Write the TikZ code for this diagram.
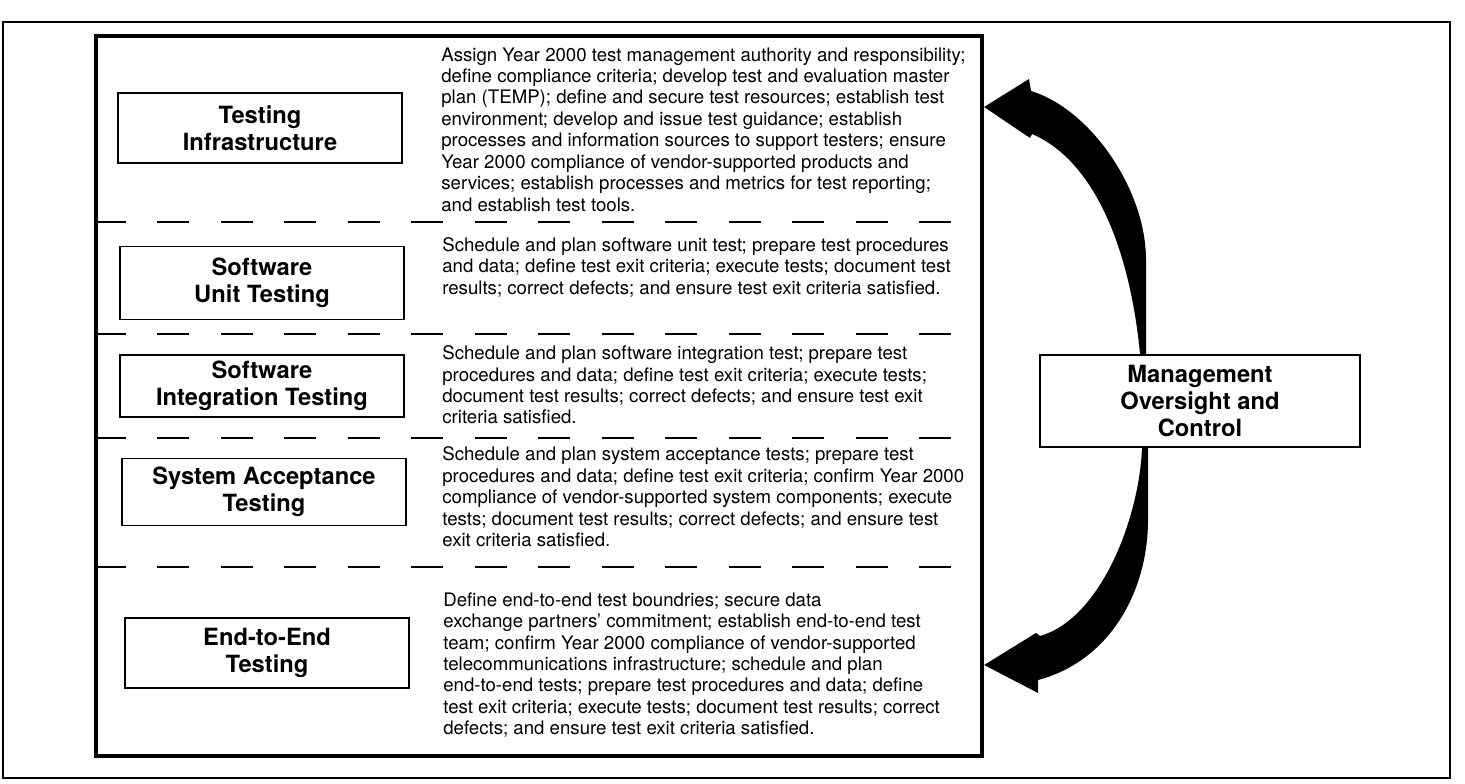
\documentclass[tikz,border=0pt]{standalone}
\usepackage{fontspec}
\setsansfont{TeX Gyre Heros}
\begin{document}
\begin{tikzpicture}[font=\sffamily,
  phase/.style={draw, line width=1.1pt, minimum width=5.68cm, align=center,
    font=\sffamily\bfseries\fontsize{13.5}{15.2}\selectfont},
  duty/.style={anchor=west, align=left, inner sep=0pt,
    font=\sffamily\fontsize{10.6}{12.2}\selectfont},
  split/.style={line width=0.8pt, dash pattern=on 0.64cm off 0.63cm}]
  \useasboundingbox (0,0) rectangle (29.3,15.68);
  \draw[line width=0.8pt] (0.06,0.12) rectangle (29.0,15.24);
  \node[draw, line width=2.4pt, minimum width=17.72cm, minimum height=14.4cm] (stack) at (10.78,7.76) {};
  % phases
  \node[phase, minimum height=1.4cm] (infra) at (5.2,13.12) {Testing\\Infrastructure};
  \node[phase, minimum height=1.46cm] (unit) at (5.24,10.02) {Software\\Unit Testing};
  \node[phase, minimum height=1.12cm] (integ) at (5.24,7.96) {Software\\Integration Testing};
  \node[phase, minimum height=1.34cm] (accept) at (5.28,5.84) {System Acceptance\\Testing};
  \node[phase, minimum height=1.4cm] (endend) at (5.34,2.62) {End-to-End\\Testing};
  % separators
  \draw[split] (stack.west |- 0,11.24) -- (19.3,11.24);
  \draw[split] (stack.west |- 0,9.0) -- (19.3,9.0);
  \draw[split] (stack.west |- 0,6.92) -- (19.3,6.92);
  \draw[split] (stack.west |- 0,4.34) -- (19.3,4.34);
  % activities
  \node[duty] (infratext) at (8.82,13.09) {Assign Year 2000 test management authority and responsibility;\\
    define compliance criteria; develop test and evaluation master\\
    plan (TEMP); define and secure test resources; establish test\\
    environment; develop and issue test guidance; establish\\
    processes and information sources to support testers; ensure\\
    Year 2000 compliance of vendor-supported products and\\
    services; establish processes and metrics for test reporting;\\
    and establish test tools.};
  \node[duty] (unittext) at (8.84,10.34) {Schedule and plan software unit test; prepare test procedures\\
    and data; define test exit criteria; execute tests; document test\\
    results; correct defects; and ensure test exit criteria satisfied.};
  \node[duty] (integtext) at (8.84,7.98) {Schedule and plan software integration test; prepare test\\
    procedures and data; define test exit criteria; execute tests;\\
    document test results; correct defects; and ensure test exit\\
    criteria satisfied.};
  \node[duty] (accepttext) at (8.84,5.74) {Schedule and plan system acceptance tests; prepare test\\
    procedures and data; define test exit criteria; confirm Year 2000\\
    compliance of vendor-supported system components; execute\\
    tests; document test results; correct defects; and ensure test\\
    exit criteria satisfied.};
  \node[duty] (endendtext) at (8.86,2.38) {Define end-to-end test boundries; secure data\\
    exchange partners' commitment; establish end-to-end test\\
    team; confirm Year 2000 compliance of vendor-supported\\
    telecommunications infrastructure; schedule and plan\\
    end-to-end tests; prepare test procedures and data; define\\
    test exit criteria; execute tests; document test results; correct\\
    defects; and ensure test exit criteria satisfied.};
  % oversight
  \node[phase, line width=1.4pt, minimum width=6.4cm, minimum height=1.84cm] (mgmt) at (24.0,7.66)
    {Management\\Oversight and\\Control};
  \coordinate (upTip) at (stack.east |- 0,13.54);
  \coordinate (downTip) at (stack.east |- 0,2.38);
  \fill (mgmt.north -| 22.92,0) -- (22.92,10.48) .. controls (22.92,11.9) and (21.8,13.5) .. (20.62,13.86)
    -- (20.58,14.1) -- (upTip) -- (20.6,12.92) -- (20.64,13.0)
    .. controls (21.9,12.46) and (22.6,10.68) .. (mgmt.north -| 22.8,0) -- cycle;
  \fill (mgmt.south -| 22.96,0) -- (22.96,5.28) .. controls (22.96,3.86) and (22.2,2.46) .. (20.76,2.08)
    -- (20.76,1.82) -- (downTip) -- (20.72,3.02) -- (20.8,2.96)
    .. controls (22.0,3.3) and (22.78,5.28) .. (mgmt.south -| 22.84,0) -- cycle;
\end{tikzpicture}
\end{document}
